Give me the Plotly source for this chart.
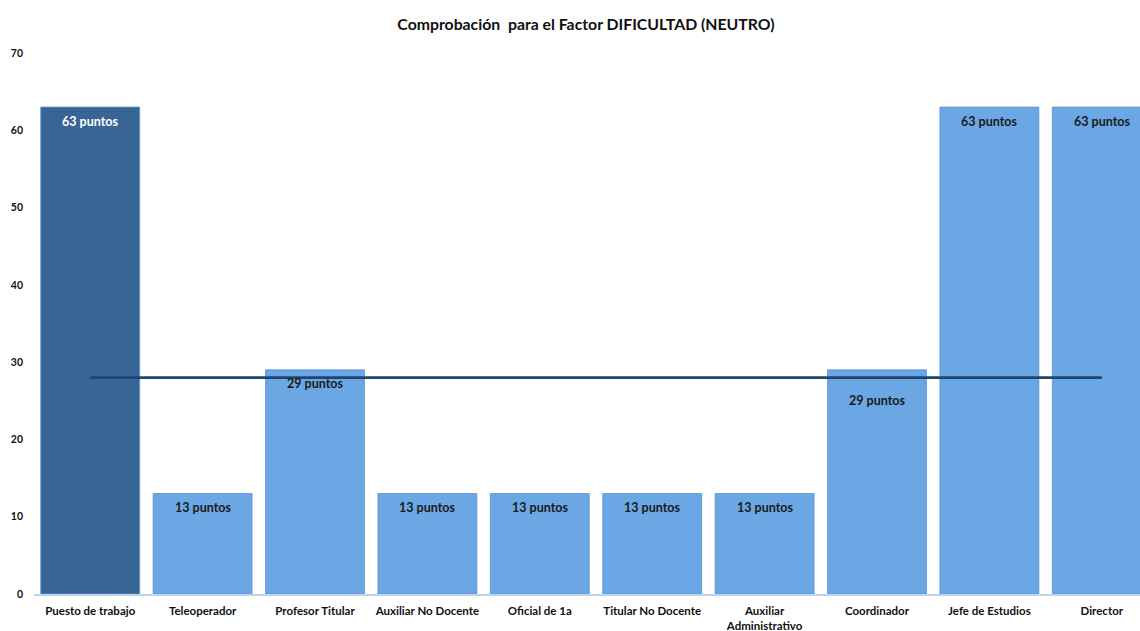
import plotly.graph_objects as go

# Puestos evaluados y puntuación del factor DIFICULTAD
categorias = [
    "Puesto de trabajo", "Teleoperador", "Profesor Titular", "Auxiliar No Docente",
    "Oficial de 1a", "Titular No Docente", "Auxiliar<br>Administrativo",
    "Coordinador", "Jefe de Estudios", "Director",
]
puntos = [63, 13, 29, 13, 13, 13, 13, 29, 63, 63]
etiquetas = [f"{p} puntos" for p in puntos]
valor_neutro = 28
ticks_y = [0, 10, 20, 30, 40, 50, 60, 70]

# Desplazamiento vertical (px) de cada etiqueta respecto a la parte superior de la barra
desplaz_etiqueta = [-14, -14, -14, -14, -14, -14, -14, -31, -14, -14]

colores = ["#386596"] + ["#6aa7e4"] * (len(categorias) - 1)
color_texto = ["#ffffff"] + ["#1a1a1a"] * (len(categorias) - 1)

x_idx = list(range(len(categorias)))

fig = go.Figure()
fig.add_trace(go.Bar(
    x=x_idx, y=puntos,
    marker=dict(color=colores, line=dict(color="#5d93cc", width=0.8)),
    width=0.88,
    hoverinfo="skip",
))
fig.add_trace(go.Scatter(
    x=x_idx, y=[valor_neutro] * len(categorias),
    mode="lines", line=dict(color="#1f4470", width=2.6),
    hoverinfo="skip",
))

for i, (p, t) in enumerate(zip(puntos, etiquetas)):
    fig.add_annotation(
        x=i, y=p, text=f"<b>{t}</b>", showarrow=False,
        yanchor="middle", yshift=desplaz_etiqueta[i],
        font=dict(family="Lato, sans-serif", size=12.5, color=color_texto[i]),
    )

fig.update_layout(
    width=1140, height=631,
    margin=dict(l=34, r=0, t=53, b=37),
    paper_bgcolor="white", plot_bgcolor="white",
    showlegend=False,
    title=dict(
        text="<b>Comprobación  para el Factor DIFICULTAD (NEUTRO)</b>",
        x=586 / 1140, xanchor="center", y=(631 - 24) / 631, yanchor="middle",
        font=dict(family="Lato, sans-serif", size=15.8, color="#111111"),
    ),
    xaxis=dict(
        range=[-0.5, 9.34], tickmode="array", tickvals=x_idx,
        ticktext=[f"<b>{c}</b>" for c in categorias],
        tickfont=dict(family="Lato, sans-serif", size=11.5, color="#111111"),
        showgrid=False, zeroline=False, showline=True,
        linecolor="#bcd4ec", linewidth=1.5, ticks="", ticklen=0,
        ticklabelstandoff=5,
    ),
    yaxis=dict(
        range=[0, 70], tickvals=ticks_y,
        ticktext=[f"<b>{v}</b>" for v in ticks_y],
        tickfont=dict(family="Lato, sans-serif", size=10.5, color="#111111"),
        showgrid=False, zeroline=False, showline=False, ticks="",
        ticklabelstandoff=10,
    ),
)

fig.write_html("out.html")
